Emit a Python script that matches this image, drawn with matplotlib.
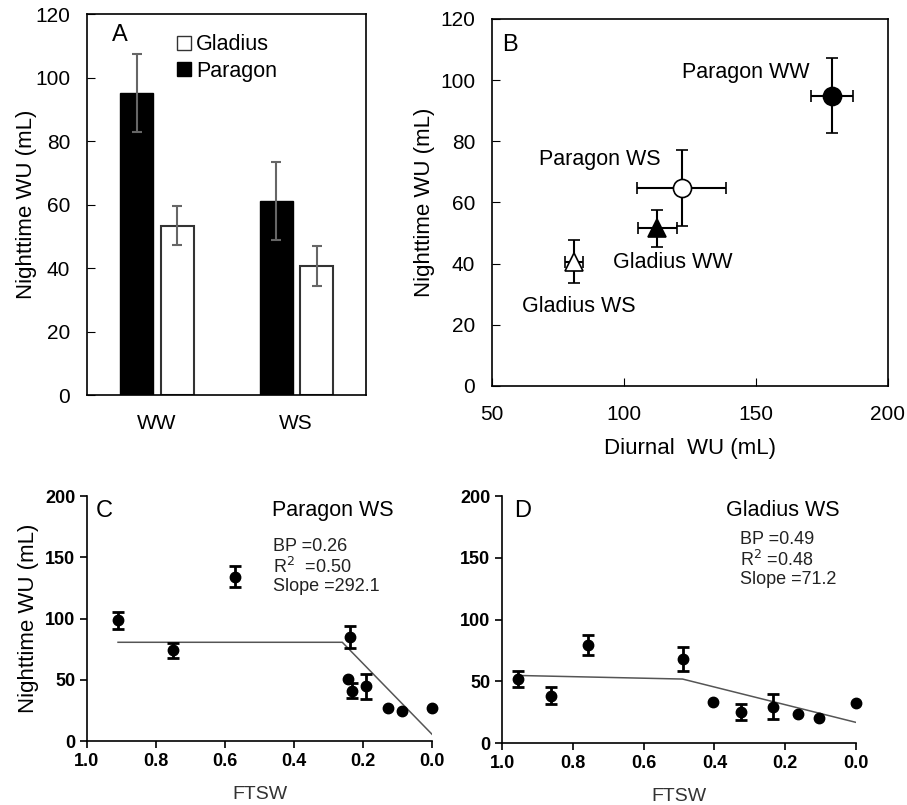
import matplotlib.pyplot as plt
from matplotlib.lines import Line2D
import numpy as np

plt.rcParams['font.family'] = ['Liberation Sans', 'DejaVu Sans']

# Panel A: bar chart
conditions = ['WW', 'WS']
paragon_mean = [95.0, 61.2]
paragon_err = [12.3, 12.3]
gladius_mean = [53.3, 40.5]
gladius_err = [6.2, 6.3]

# Panel B: diurnal vs nighttime water use
b_labels = ['Paragon WW', 'Paragon WS', 'Gladius WW', 'Gladius WS']
b_diurnal = [178.8, 121.9, 112.6, 81.1]
b_diurnal_err = [7.9, 16.9, 7.4, 3.5]
b_night = [94.9, 64.8, 51.5, 40.6]
b_night_err = [12.2, 12.4, 6.1, 7.0]

# Panel C: Paragon WS vs FTSW (0 = no error bar drawn)
c_ftsw = [0.910, 0.751, 0.572, 0.237, 0.243, 0.232, 0.190, 0.128, 0.087, 0.0]
c_wu = [98.5, 74.1, 134.3, 84.7, 50.7, 41.2, 44.5, 26.9, 24.2, 26.9]
c_err = [7.0, 6.0, 8.3, 9.0, 0.0, 6.0, 10.0, 0.0, 0.0, 0.0]
c_fit_x = [0.91, 0.26, 0.0]
c_fit_y = [80.6, 80.6, 5.5]

# Panel D: Gladius WS vs FTSW
d_ftsw = [0.955, 0.863, 0.758, 0.490, 0.405, 0.326, 0.234, 0.164, 0.104, 0.0]
d_wu = [51.8, 38.3, 79.2, 68.2, 33.4, 25.3, 29.4, 23.5, 20.2, 32.6]
d_err = [6.7, 6.7, 8.3, 9.7, 0.0, 6.5, 10.0, 0.0, 0.0, 0.0]
d_fit_x = [0.955, 0.49, 0.0]
d_fit_y = [54.7, 51.8, 16.7]

fig = plt.figure(figsize=(9.07, 8.05), dpi=100)

# ---------- Panel A ----------
ax_a = fig.add_axes([0.0959, 0.5093, 0.3076, 0.4733])
x = np.arange(len(conditions))
w = 0.236
err_kw = dict(ecolor='#666666', elinewidth=1.5, capsize=3.5, capthick=1.5)
ax_a.bar(x - 0.143, paragon_mean, w, yerr=paragon_err, color='black',
         edgecolor='black', error_kw=err_kw, label='Paragon')
ax_a.bar(x + 0.147, gladius_mean, w, yerr=gladius_err, color='white',
         edgecolor='#333333', linewidth=1.5, error_kw=err_kw, label='Gladius')
ax_a.set_xlim(-0.5, 1.5)
ax_a.set_ylim(0, 120)
ax_a.set_yticks(range(0, 121, 20))
ax_a.set_xticks(x)
ax_a.set_xticklabels(conditions)
ax_a.tick_params(axis='y', direction='in', length=6, labelsize=15, pad=12)
ax_a.tick_params(axis='x', length=0, labelsize=15, pad=14)
ax_a.set_ylabel('Nighttime WU (mL)', fontsize=16, labelpad=-1)
for s in ax_a.spines.values():
    s.set_linewidth(1.2)
ax_a.text(0.09, 0.975, 'A', transform=ax_a.transAxes, fontsize=17, va='top')
handles = [Line2D([], [], marker='s', ls='none', mfc='white', mec='#333333', ms=10),
           Line2D([], [], marker='s', ls='none', mfc='black', mec='black', ms=10)]
ax_a.legend(handles, ['Gladius', 'Paragon'], loc='upper left',
            bbox_to_anchor=(0.255, 0.998), frameon=False, fontsize=15.5,
            handlelength=0.6, handletextpad=0.25, labelspacing=0.25)

# ---------- Panel B ----------
ax_b = fig.add_axes([0.5424, 0.5205, 0.4366, 0.4559])
fills = ['black', 'white', 'black', 'white']
markers = ['o', 'o', '^', '^']
for i in range(len(b_labels)):
    ax_b.errorbar(b_diurnal[i], b_night[i], xerr=b_diurnal_err[i], yerr=b_night_err[i],
                  fmt=markers[i], mfc=fills[i], mec='black', mew=1.2, ms=13,
                  ecolor='black', elinewidth=1.5, capsize=4.5, capthick=1.5, zorder=3)
b_text_pos = [(146, 102.6), (91, 74.2), (118.6, 40.5), (83, 26)]
for lab, (tx, ty) in zip(b_labels, b_text_pos):
    ax_b.text(tx, ty, lab, fontsize=15.5, ha='center', va='center')
ax_b.set_xlim(50, 200)
ax_b.set_ylim(0, 120)
ax_b.set_xticks([50, 100, 150, 200])
ax_b.set_yticks(range(0, 121, 20))
ax_b.tick_params(direction='in', length=6, labelsize=15)
ax_b.tick_params(axis='x', pad=14)
ax_b.tick_params(axis='y', pad=12)
ax_b.set_xlabel('Diurnal  WU (mL)', fontsize=16, labelpad=10)
ax_b.set_ylabel('Nighttime WU (mL)', fontsize=16, labelpad=4)
for s in ax_b.spines.values():
    s.set_linewidth(1.2)
ax_b.text(0.025, 0.96, 'B', transform=ax_b.transAxes, fontsize=17, va='top')


# ---------- Panels C and D ----------
def ftsw_panel(ax, fx, fy, ferr, lx, ly, letter, letter_x, title, title_x,
               stats, stats_x, stats_y):
    ax.plot(fx, fy, 'o', color='black', ms=7.5, clip_on=False, zorder=3)
    ex = [a for a, e in zip(fx, ferr) if e > 0]
    ey = [b for b, e in zip(fy, ferr) if e > 0]
    ee = [e for e in ferr if e > 0]
    ax.errorbar(ex, ey, yerr=ee, fmt='none', ecolor='black',
                elinewidth=2, capsize=4, capthick=2, zorder=3)
    ax.plot(lx, ly, color='#555555', lw=1.1)
    ax.set_xlim(1.0, 0.0)
    ax.set_ylim(0, 200)
    ax.set_xticks([1.0, 0.8, 0.6, 0.4, 0.2, 0.0])
    ax.set_yticks([0, 50, 100, 150, 200])
    ax.set_xticklabels(['1.0', '0.8', '0.6', '0.4', '0.2', '0.0'])
    ax.tick_params(direction='out', length=5, width=1.2, labelsize=13)
    for lab in ax.get_xticklabels() + ax.get_yticklabels():
        lab.set_fontweight('bold')
    ax.spines['top'].set_visible(False)
    ax.spines['right'].set_visible(False)
    ax.spines['left'].set_linewidth(1.2)
    ax.spines['bottom'].set_linewidth(1.2)
    ax.set_xlabel('FTSW', fontsize=14, color='#333333', labelpad=12)
    ax.text(letter_x, 0.985, letter, transform=ax.transAxes, fontsize=17, va='top')
    ax.text(title_x, 0.985, title, transform=ax.transAxes, fontsize=15.5,
            ha='center', va='top')
    ax.text(stats_x, stats_y, stats, transform=ax.transAxes, fontsize=13,
            va='top', linespacing=1.12, color='#222222')


ax_c = fig.add_axes([0.0959, 0.0795, 0.3804, 0.3043])
ftsw_panel(ax_c, c_ftsw, c_wu, c_err, c_fit_x, c_fit_y, 'C', 0.025,
           'Paragon WS', 0.713,
           'BP =0.26\nR$^{2}$  =0.50\nSlope =292.1', 0.54, 0.83)
ax_c.set_ylabel('Nighttime WU (mL)', fontsize=16, labelpad=4)

ax_d = fig.add_axes([0.5535, 0.077, 0.3903, 0.3068])
ftsw_panel(ax_d, d_ftsw, d_wu, d_err, d_fit_x, d_fit_y, 'D', 0.035,
           'Gladius WS', 0.794,
           'BP =0.49\nR$^{2}$ =0.48\nSlope =71.2', 0.672, 0.86)

fig.savefig('out.png', dpi=100)
